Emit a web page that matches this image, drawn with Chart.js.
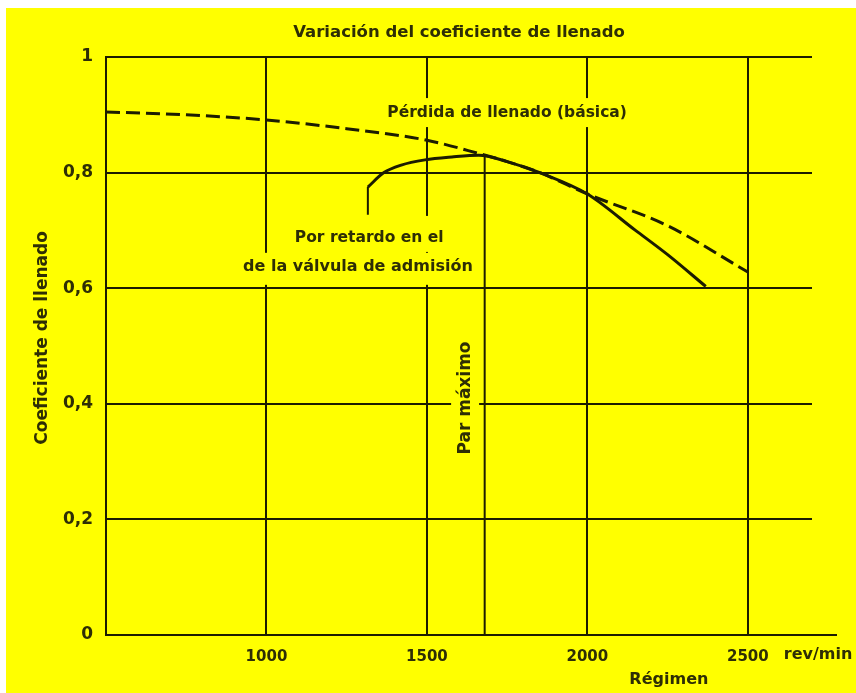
<!DOCTYPE html>
<html>
<head>
<meta charset="utf-8">
<script src="https://cdn.jsdelivr.net/npm/chart.js@4/dist/chart.umd.min.js"></script>
<style>
    html, body { margin: 0; padding: 0; background: #ffffff; }
    #wrap { position: absolute; left: 6px; top: 8px; width: 850px; height: 685px; background: #ffff00; }
</style>
</head>
<body>
<div id="wrap"><canvas id="chart" width="850" height="685"></canvas></div>
<script>
// Variación del coeficiente de llenado

const rpmTicks = [1000, 1500, 2000, 2500];
const coefTicks = [0, 0.2, 0.4, 0.6, 0.8, 1];

// dashed curve: pérdida de llenado (básica)
const basicRpm = [500, 750, 1000, 1250, 1500, 1662, 1750, 1856, 2000, 2250, 2500];
const basicCoef = [0.905, 0.900, 0.891, 0.876, 0.856, 0.833, 0.819, 0.799, 0.763, 0.708, 0.628];

// solid curve: por retardo en el cierre de la válvula de admisión
const valveRpm = [1316, 1366, 1420, 1494, 1578, 1662, 1750, 1856, 2000, 2150, 2250, 2369];
const valveCoef = [0.775, 0.800, 0.813, 0.822, 0.827, 0.830, 0.819, 0.799, 0.763, 0.700, 0.658, 0.603];

// vertical marker at par máximo, and the small leader under the solid curve
const maxTorqueRpm = [1680, 1680];
const maxTorqueCoef = [0, 0.828];
const leaderRpm = [1316, 1316];
const leaderCoef = [0.775, 0.727];

const INK = '#1c1c00';
const TEXT = '#2e2e05';
const YELLOW = '#ffff00';
const FONT = "'DejaVu Sans', Verdana, sans-serif";

function toPoints(xs, ys) {
    return xs.map((x, i) => ({ x: x, y: ys[i] }));
}

// text drawn on the chart, anchored in data units; box = [above, below] in px
const notes = [
    { text: 'Pérdida de llenado (básica)', x: 1750, y: 0.903, size: 15.5, box: [15, 14] },
    { text: 'Por retardo en el', x: 1320, y: 0.687, size: 15.5, box: [22, 14] },
    { text: 'de la válvula de admisión', x: 1285, y: 0.637, size: 16, box: [14, 18] },
    { text: 'Par máximo', x: 1619, y: 0.41, size: 17, rot: -Math.PI / 2, box: [14, 14] },
    { text: 'Régimen', x: 2254, y: -0.078, size: 16 },
    { text: 'rev/min', x: 2719, y: -0.035, size: 16 }
];

const textPlugin = {
    id: 'texts',
    beforeDatasetsDraw(chart) {
        const ctx = chart.ctx;
        const xs = chart.scales.x;
        const ys = chart.scales.y;
        const area = chart.chartArea;

        // axis line runs on a little past the last gridline
        ctx.save();
        ctx.strokeStyle = INK;
        ctx.lineWidth = 2;
        ctx.beginPath();
        ctx.moveTo(area.right, area.bottom);
        ctx.lineTo(area.right + 25, area.bottom);
        ctx.stroke();
        ctx.restore();

        ctx.save();
        ctx.textAlign = 'center';
        ctx.textBaseline = 'middle';
        notes.forEach(n => {
            const px = xs.getPixelForValue(n.x);
            const py = ys.getPixelForValue(n.y);
            ctx.save();
            ctx.font = 'bold ' + n.size + 'px ' + FONT;
            ctx.translate(px, py);
            if (n.rot) ctx.rotate(n.rot);
            const w = ctx.measureText(n.text).width;
            if (n.box) {
                // yellow patch so the gridlines break around the label
                ctx.fillStyle = YELLOW;
                ctx.fillRect(-w / 2 - 4, -n.box[0], w + 8, n.box[0] + n.box[1]);
            }
            ctx.fillStyle = TEXT;
            ctx.fillText(n.text, 0, 0);
            ctx.restore();
        });

        // chart title and y axis title
        ctx.fillStyle = TEXT;
        ctx.font = 'bold 16.5px ' + FONT;
        ctx.fillText('Variación del coeficiente de llenado', (area.left + area.right) / 2, area.top - 24);
        ctx.font = 'bold 17px ' + FONT;
        ctx.translate(area.left - 63, ys.getPixelForValue(0.514));
        ctx.rotate(-Math.PI / 2);
        ctx.fillText('Coeficiente de llenado', 0, 0);
        ctx.restore();
    }
};

new Chart(document.getElementById('chart'), {
    type: 'line',
    data: {
        datasets: [
            {
                label: 'Pérdida de llenado (básica)',
                data: toPoints(basicRpm, basicCoef),
                borderColor: INK,
                borderWidth: 3,
                borderDash: [14, 6],
                pointRadius: 0,
                cubicInterpolationMode: 'monotone',
                fill: false
            },
            {
                label: 'Por retardo en el cierre de la válvula de admisión',
                data: toPoints(valveRpm, valveCoef),
                borderColor: INK,
                borderWidth: 3,
                pointRadius: 0,
                cubicInterpolationMode: 'monotone',
                fill: false
            },
            {
                label: 'Par máximo',
                data: toPoints(maxTorqueRpm, maxTorqueCoef),
                borderColor: INK,
                borderWidth: 2,
                pointRadius: 0
            },
            {
                label: 'leader',
                data: toPoints(leaderRpm, leaderCoef),
                borderColor: INK,
                borderWidth: 2,
                pointRadius: 0
            }
        ]
    },
    options: {
        responsive: false,
        animation: false,
        layout: {
            padding: { left: 0, right: 44, top: 49, bottom: 0 }
        },
        plugins: {
            legend: { display: false },
            tooltip: { enabled: false },
            title: { display: false }
        },
        scales: {
            x: {
                type: 'linear',
                min: 500,
                max: 2700,
                afterBuildTicks: scale => {
                    scale.ticks = rpmTicks.map(v => ({ value: v }));
                },
                afterFit: scale => { scale.height = 58; },
                grid: { color: INK, lineWidth: 2, drawTicks: false },
                border: { display: true, color: INK, width: 2 },
                ticks: {
                    padding: 13,
                    color: TEXT,
                    font: { family: FONT, size: 15, weight: 'bold' },
                    maxRotation: 0,
                    callback: v => String(v)
                }
            },
            y: {
                type: 'linear',
                min: 0,
                max: 1,
                afterBuildTicks: scale => {
                    scale.ticks = coefTicks.map(v => ({ value: v }));
                },
                afterFit: scale => { scale.width = 100; },
                grid: { color: INK, lineWidth: 2, drawTicks: false },
                border: { display: true, color: INK, width: 2 },
                ticks: {
                    padding: 13,
                    color: TEXT,
                    font: { family: FONT, size: 17, weight: 'bold' },
                    callback: v => String(v).replace('.', ',')
                }
            }
        }
    },
    plugins: [textPlugin]
});
</script>
</body>
</html>
